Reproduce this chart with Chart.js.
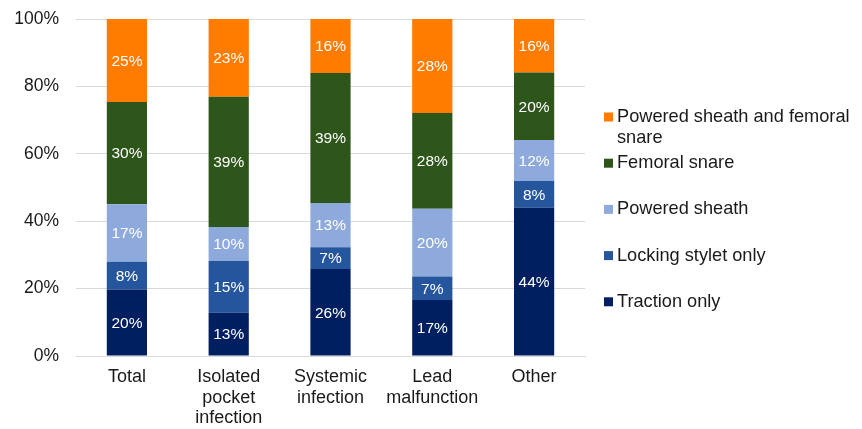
<!DOCTYPE html>
<html>
<head>
<meta charset="utf-8">
<script src="https://cdn.jsdelivr.net/npm/chart.js@4/dist/chart.umd.min.js"></script>
<style>
  html, body { margin: 0; padding: 0; background: #ffffff; }
  #wrap { width: 862px; height: 429px; }
</style>
</head>
<body>
<div id="wrap"><canvas id="c" width="862" height="429"></canvas></div>
<script>
// ---- data ----
const categories = ["Total", ["Isolated", "pocket", "infection"], ["Systemic", "infection"], ["Lead", "malfunction"], "Other"];
const tractionOnly      = [19.7, 12.8, 25.8, 16.6, 44.0];
const lockingStyletOnly = [8.3, 15.4, 6.5, 7.0, 7.9];
const poweredSheath     = [17.0, 10.1, 13.1, 20.1, 12.2];
const femoralSnare      = [30.4, 38.6, 38.6, 28.4, 20.0];
const poweredAndFemoral = [24.6, 23.1, 16.0, 27.9, 15.9];
const seriesNames = ["Traction only", "Locking stylet only", "Powered sheath", "Femoral snare", "Powered sheath and femoral snare"];
const yTicks = [0, 20, 40, 60, 80, 100];

const colors = ["#001f60", "#25559c", "#8eaadc", "#2e561b", "#ff7c00"];
const FONT = "'Liberation Sans', Arial, sans-serif";

const seriesData = [tractionOnly, lockingStyletOnly, poweredSheath, femoralSnare, poweredAndFemoral];

const datasets = seriesData.map((d, i) => ({
  label: seriesNames[i],
  data: d,
  backgroundColor: colors[i],
  borderWidth: 0,
  barPercentage: 0.395,
  categoryPercentage: 1.0
}));

const valueLabels = {
  id: 'valueLabels',
  afterDatasetsDraw(chart) {
    const ctx = chart.ctx;
    ctx.save();
    ctx.font = "15.5px " + FONT;
    ctx.fillStyle = "#ffffff";
    ctx.textAlign = "center";
    ctx.textBaseline = "middle";
    chart.data.datasets.forEach((ds, di) => {
      const meta = chart.getDatasetMeta(di);
      meta.data.forEach((bar, i) => {
        const v = ds.data[i];
        const p = bar.getProps(['x', 'y', 'base'], true);
        ctx.fillText(Math.round(v) + "%", p.x, (p.y + p.base) / 2 + 1);
      });
    });
    ctx.restore();
  }
};

const customLegend = {
  id: 'customLegend',
  afterDraw(chart) {
    const ctx = chart.ctx;
    ctx.save();
    ctx.font = "18.2px " + FONT;
    ctx.textBaseline = "middle";
    ctx.textAlign = "left";
    const x0 = 604, box = 9, tx = 617, maxW = 243;
    const y0 = 117, step = 46.2, lineH = 20.5;
    const ds = chart.data.datasets.slice().reverse();
    ds.forEach((d, i) => {
      const y = y0 + step * i;
      ctx.fillStyle = d.backgroundColor;
      ctx.fillRect(x0, y - box / 2, box, box);
      ctx.fillStyle = "#1a1a1a";
      const words = d.label.split(" ");
      const lines = [];
      let cur = "";
      words.forEach(w => {
        const test = cur ? cur + " " + w : w;
        if (ctx.measureText(test).width > maxW && cur) { lines.push(cur); cur = w; }
        else cur = test;
      });
      if (cur) lines.push(cur);
      lines.forEach((ln, k) => ctx.fillText(ln, tx, y + k * lineH));
    });
    ctx.restore();
  }
};

new Chart(document.getElementById('c'), {
  type: 'bar',
  data: { labels: categories, datasets },
  options: {
    responsive: false,
    animation: false,
    layout: { padding: { left: 14, right: 277, top: 19, bottom: 0 } },
    plugins: {
      legend: { display: false },
      tooltip: { enabled: false }
    },
    scales: {
      x: {
        stacked: true,
        grid: { display: false, drawTicks: false },
        border: { display: true, color: "#d9d9d9", width: 1 },
        ticks: {
          color: "#1a1a1a",
          font: { family: FONT, size: 18, lineHeight: 1.14 },
          padding: 11,
          maxRotation: 0,
          autoSkip: false
        },
        afterFit(axis) { axis.height = 73; }
      },
      y: {
        stacked: true,
        min: 0,
        max: 100,
        afterBuildTicks(axis) { axis.ticks = yTicks.map(v => ({ value: v })); },
        grid: { color: "#d9d9d9", lineWidth: 1, drawTicks: false },
        border: { display: false },
        ticks: {
          color: "#1a1a1a",
          font: { family: FONT, size: 17.5 },
          padding: 17,
          callback: v => v + "%"
        },
        afterFit(axis) { axis.width = 62; axis.paddingTop = 0; axis.paddingBottom = 0; }
      }
    }
  },
  plugins: [valueLabels, customLegend]
});
</script>
</body>
</html>
